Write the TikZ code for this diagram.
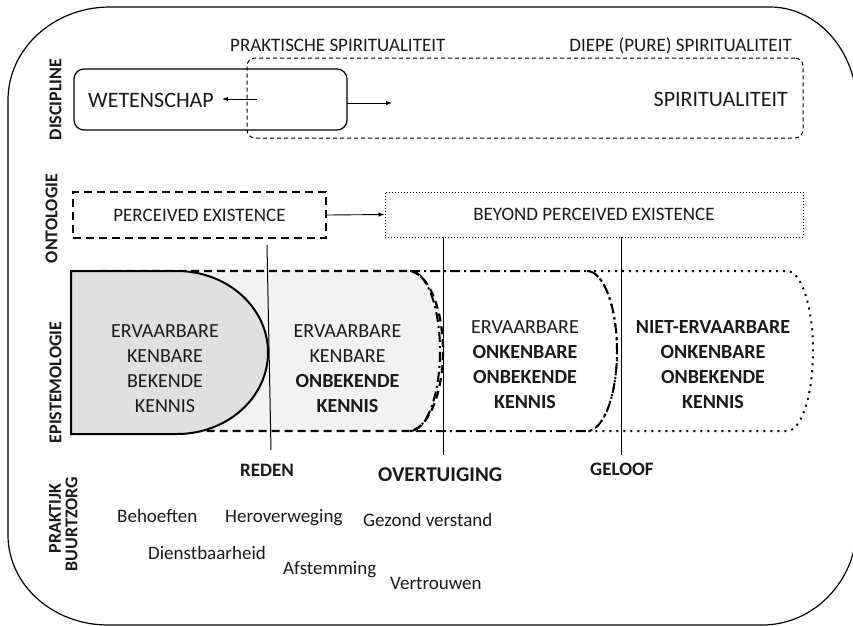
\documentclass[tikz,border=0pt]{standalone}
\usepackage{fontspec}
\setmainfont{Carlito}
\usetikzlibrary{arrows.meta}
\definecolor{fillA}{HTML}{E0E0E0}
\definecolor{fillB}{HTML}{F2F2F2}
\definecolor{ink}{HTML}{1A1A1A}
\begin{document}
\begin{tikzpicture}[x=1pt,y=-1pt,
  every node/.style={inner sep=0pt, text=ink},
  f19/.style={font=\fontsize{19}{23}\selectfont},
  f20/.style={font=\fontsize{20}{25}\selectfont},
  f22/.style={font=\fontsize{22}{26}\selectfont},
  b19/.style={font=\fontsize{19}{23}\selectfont\bfseries},
  sidelbl/.style={rotate=90, font=\fontsize{18}{20}\selectfont\bfseries},
  arr/.style={-{Latex[length=6pt,width=4.5pt]}, line width=0.9pt},
  vline/.style={line width=1pt},
  frame/.style={line width=1.2pt},
  wetbox/.style={draw, line width=1.2pt, rounded corners=10pt},
  spbox/.style={draw, line width=1pt, rounded corners=8pt, dash pattern=on 4pt off 3pt},
  percbox/.style={draw, line width=2.2pt, dash pattern=on 8pt off 5pt},
  beybox/.style={draw, line width=1pt, dash pattern=on 1pt off 2pt},
  epiA/.style={draw, fill=fillA, line width=2pt},
  epiB/.style={draw, fill=fillB, line width=2.2pt, dash pattern=on 8pt off 5pt},
  epiC/.style={draw, line width=2pt, dash pattern=on 10pt off 4pt on 2pt off 4pt},
  epiD/.style={draw, line width=2pt, dash pattern=on 2pt off 5pt},
]
\useasboundingbox (0,0) rectangle (853,625);
\clip (0,0) rectangle (853,625);
\fill[white] (0,0) rectangle (853,625);

% outer frame
\draw[frame] (110,7) -- (770,7)
  arc[start angle=-90, end angle=0, x radius=87, y radius=100] -- (857,525)
  arc[start angle=0, end angle=90, x radius=95, y radius=100] -- (108,625)
  arc[start angle=90, end angle=180, x radius=100, y radius=90] -- (8,100)
  arc[start angle=180, end angle=270, x radius=102, y radius=93] -- cycle;

% side labels
\node[sidelbl] (ldis) at (55.5,99.5) {DISCIPLINE};
\node[sidelbl] (lont) at (51.5,218.5) {ONTOLOGIE};
\node[sidelbl] (lepi) at (55.5,382.5) {EPISTEMOLOGIE};
\node[sidelbl] (lpra) at (55,518.5) {PRAKTIJK};
\node[sidelbl] (lbuu) at (71.5,524) {BUURTZORG};

% discipline row
\node[wetbox, minimum width=273pt, minimum height=61pt] (wet) at (210.5,99.5) {};
\node[spbox, minimum width=556pt, minimum height=80pt] (spi) at (525,98) {};
\node[f22, anchor=base west] (wettxt) at (88,107.3) {WETENSCHAP};
\node[f22, anchor=base east] (spitxt) at (788,106.7) {SPIRITUALITEIT};
\node[f19, anchor=base west] (prak) at (230,51) {PRAKTISCHE SPIRITUALITEIT};
\node[f19, anchor=base east] (diepe) at (792,51.5) {DIEPE (PURE) SPIRITUALITEIT};
\coordinate (a1s) at (257,99);
\coordinate (a1e) at (222,99);
\draw[arr] (a1s) -- (a1e);
\coordinate (a2s) at (347,103);
\coordinate (a2e) at (392,103);
\draw[arr] (a2s) -- (a2e);

% ontology row
\node[percbox, f19, minimum width=253pt, minimum height=46pt] (perc) at (199.5,215) {PERCEIVED EXISTENCE};
\node[beybox, f19, minimum width=418pt, minimum height=45pt] (bey) at (594,214.5) {BEYOND PERCEIVED EXISTENCE};
\draw[arr] (perc.east) -- (bey.west);

% epistemology shapes
\path[epiD] (587,271) -- (787,271)
  arc[start angle=-90, end angle=90, x radius=26, y radius=80] -- (587,431)
  arc[start angle=90, end angle=-90, x radius=30, y radius=80] -- cycle;
\path[epiC] (410,271) -- (587,271)
  arc[start angle=-90, end angle=90, x radius=30, y radius=80] -- (410,431)
  arc[start angle=90, end angle=-90, x radius=30, y radius=80] -- cycle;
\path[epiB] (100,271) -- (408,271)
  arc[start angle=-90, end angle=90, x radius=35, y radius=80] -- (100,431) -- cycle;
\path[epiA] (71,271) -- (177,271)
  arc[start angle=-90, end angle=90, x radius=91, y radius=81.5] -- (71,434) -- cycle;
\draw[epiC] (410,431) arc[start angle=90, end angle=-90, x radius=30, y radius=80];

\node[f20, align=center] (k1) at (165,368.5) {ERVAARBARE\\KENBARE\\BEKENDE\\KENNIS};
\node[f20, align=center] (k2) at (347.5,368.5) {ERVAARBARE\\KENBARE\\\textbf{ONBEKENDE}\\\textbf{KENNIS}};
\node[f20, align=center] (k3) at (525,364.5) {ERVAARBARE\\\textbf{ONKENBARE}\\\textbf{ONBEKENDE}\\\textbf{KENNIS}};
\node[f20, align=center, font=\fontsize{20}{25}\selectfont\bfseries] (k4) at (713,364.5) {NIET-ERVAARBARE\\ONKENBARE\\ONBEKENDE\\KENNIS};

% vertical dividers
\coordinate (v1t) at (267,245);
\coordinate (v1b) at (271,450);
\coordinate (v2t) at (443,237);
\coordinate (v2b) at (443,455);
\coordinate (v3t) at (621,237);
\coordinate (v3b) at (621,455);
\draw[vline] (v1t) -- (v1b);
\draw[vline] (v2t) -- (v2b);
\draw[vline] (v3t) -- (v3b);

% labels under dividers
\node[b19, anchor=base west] (reden) at (240,476.7) {REDEN};
\node[font=\fontsize{21}{25}\selectfont\bfseries, anchor=base west] (overt) at (378,481.7) {OVERTUIGING};
\node[b19, anchor=base west] (geloof) at (590,475.7) {GELOOF};

% practice words
\node[f19, anchor=base west] (w1) at (117,522.7) {Behoeften};
\node[f19, anchor=base west] (w2) at (225,522.7) {Heroverweging};
\node[f19, anchor=base west] (w3) at (363,526) {Gezond verstand};
\node[f19, anchor=base west] (w4) at (148,559) {Dienstbaarheid};
\node[f19, anchor=base west] (w5) at (283,574) {Afstemming};
\node[f19, anchor=base west] (w6) at (390,589) {Vertrouwen};
\end{tikzpicture}
\end{document}
